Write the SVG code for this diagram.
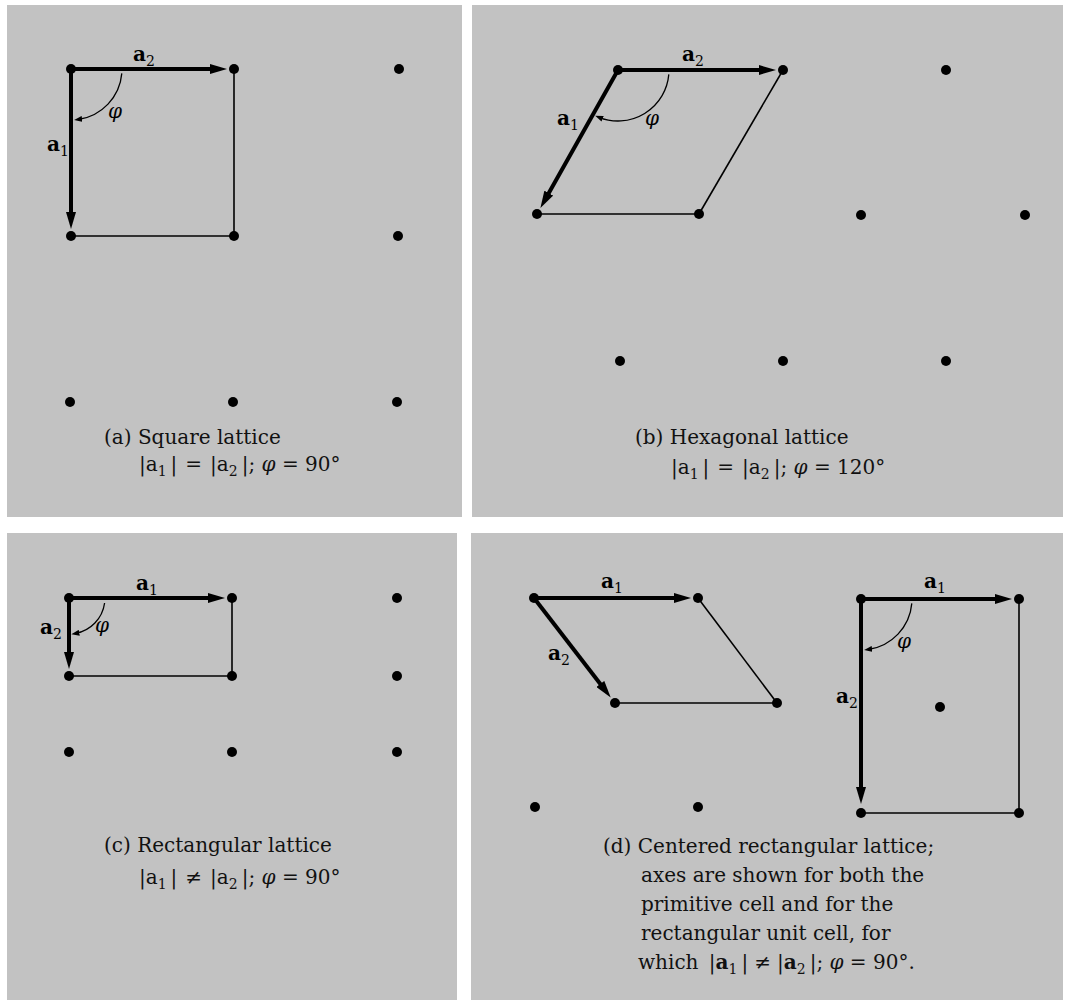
<svg xmlns="http://www.w3.org/2000/svg" width="1067" height="1003" viewBox="0 0 1067 1003">
<style>
.bg{fill:#c2c2c2}
.pt{fill:#000}
.vec{stroke:#000;stroke-width:4;fill:none;marker-end:url(#ah)}
.edge{stroke:#000;stroke-width:1.6;fill:none}
.arc{fill:none;stroke:#000;stroke-width:1.3;marker-end:url(#ahs)}
.lab{font-family:"DejaVu Serif",serif;font-weight:bold;font-size:20px;fill:#000}
.sub{font-size:14px;font-weight:normal}
.phi{font-family:"DejaVu Serif",serif;font-style:italic;font-size:20px;fill:#000}
.cap{font-family:"DejaVu Serif",serif;font-size:20px;fill:#111}
.csub{font-size:14px}
.it{font-style:italic}
.b{font-weight:bold}
</style>
<defs>
<marker id="ah" markerUnits="userSpaceOnUse" markerWidth="17" markerHeight="10" refX="7" refY="5" orient="auto">
<path d="M0,0 L17,5 L0,10 z" fill="#000"/>
</marker>
<marker id="ahs" markerUnits="userSpaceOnUse" markerWidth="8" markerHeight="6" refX="4" refY="3" orient="auto">
<path d="M0,0 L8,3 L0,6 z" fill="#000"/>
</marker>
</defs>
<rect width="1067" height="1003" fill="#fff"/>

<!-- Panel (a) -->
<g id="panel-a">
<rect class="bg" x="7" y="5" width="455" height="512"/>
<g id="a-connectors">
<line class="edge" x1="234" y1="69" x2="234" y2="236"/>
<line class="edge" x1="71" y1="236" x2="234" y2="236"/>
<line class="vec" x1="71" y1="69" x2="217" y2="69"/>
<line class="vec" x1="71" y1="69" x2="71" y2="219"/>
<path class="arc" d="M121.8,73.4 A51,51 0 0 1 78.1,119.5"/>
</g>
<g id="a-points">
<circle class="pt" cx="71" cy="69" r="5"/><circle class="pt" cx="234" cy="69" r="5"/><circle class="pt" cx="399" cy="69" r="5"/>
<circle class="pt" cx="71" cy="236" r="5"/><circle class="pt" cx="234" cy="236" r="5"/><circle class="pt" cx="398" cy="236" r="5"/>
<circle class="pt" cx="70" cy="402" r="5"/><circle class="pt" cx="233" cy="402" r="5"/><circle class="pt" cx="397" cy="402" r="5"/>
</g>
<text class="lab" x="133" y="61">a<tspan class="sub" dy="5">2</tspan></text>
<text class="lab" x="47" y="151">a<tspan class="sub" dy="5">1</tspan></text>
<text class="phi" x="108" y="118">φ</text>
<text class="cap" x="104" y="444">(a) Square lattice</text>
<text class="cap" x="139" y="471">|a<tspan class="csub" dy="5">1</tspan><tspan dy="-5" dx="4">|</tspan><tspan dx="8">=</tspan><tspan dx="8">|a</tspan><tspan class="csub" dy="5">2</tspan><tspan dy="-5" dx="4">|; <tspan class="it">φ</tspan> = 90°</tspan></text>
</g>

<!-- Panel (b) -->
<g id="panel-b">
<rect class="bg" x="472" y="5" width="591" height="512"/>
<g id="b-connectors">
<line class="edge" x1="783" y1="70" x2="699" y2="214"/>
<line class="edge" x1="537" y1="214" x2="699" y2="214"/>
<line class="vec" x1="618" y1="70" x2="766" y2="70"/>
<line class="vec" x1="618" y1="70" x2="545.3" y2="199.2"/>
<path class="arc" d="M668.8,74.4 A51,51 0 0 1 598.9,117.3"/>
</g>
<g id="b-points">
<circle class="pt" cx="618" cy="70" r="5"/><circle class="pt" cx="783" cy="70" r="5"/><circle class="pt" cx="946" cy="70" r="5"/>
<circle class="pt" cx="537" cy="214" r="5"/><circle class="pt" cx="699" cy="214" r="5"/><circle class="pt" cx="861" cy="215" r="5"/><circle class="pt" cx="1025" cy="215" r="5"/>
<circle class="pt" cx="620" cy="361" r="5"/><circle class="pt" cx="783" cy="361" r="5"/><circle class="pt" cx="946" cy="361" r="5"/>
</g>
<text class="lab" x="682" y="61">a<tspan class="sub" dy="5">2</tspan></text>
<text class="lab" x="557" y="125">a<tspan class="sub" dy="5">1</tspan></text>
<text class="phi" x="645" y="125">φ</text>
<text class="cap" x="635" y="444">(b) Hexagonal lattice</text>
<text class="cap" x="671" y="474">|a<tspan class="csub" dy="5">1</tspan><tspan dy="-5" dx="4">|</tspan><tspan dx="8">=</tspan><tspan dx="8">|a</tspan><tspan class="csub" dy="5">2</tspan><tspan dy="-5" dx="4">|; <tspan class="it">φ</tspan> = 120°</tspan></text>
</g>

<!-- Panel (c) -->
<g id="panel-c">
<rect class="bg" x="7" y="533" width="450" height="467"/>
<g id="c-connectors">
<line class="edge" x1="232" y1="598" x2="232" y2="676"/>
<line class="edge" x1="69" y1="676" x2="232" y2="676"/>
<line class="vec" x1="69" y1="598" x2="215" y2="598"/>
<line class="vec" x1="69" y1="598" x2="69" y2="659"/>
<path class="arc" d="M104.6,603 A36,36 0 0 1 75.3,633.5"/>
</g>
<g id="c-points">
<circle class="pt" cx="69" cy="598" r="5"/><circle class="pt" cx="232" cy="598" r="5"/><circle class="pt" cx="397" cy="598" r="5"/>
<circle class="pt" cx="69" cy="676" r="5"/><circle class="pt" cx="232" cy="676" r="5"/><circle class="pt" cx="397" cy="676" r="5"/>
<circle class="pt" cx="69" cy="752" r="5"/><circle class="pt" cx="232" cy="752" r="5"/><circle class="pt" cx="397" cy="752" r="5"/>
</g>
<text class="lab" x="136" y="590">a<tspan class="sub" dy="5">1</tspan></text>
<text class="lab" x="40" y="634">a<tspan class="sub" dy="5">2</tspan></text>
<text class="phi" x="95" y="632">φ</text>
<text class="cap" x="104" y="852">(c) Rectangular lattice</text>
<text class="cap" x="139" y="884">|a<tspan class="csub" dy="5">1</tspan><tspan dy="-5" dx="4">|</tspan><tspan dx="8">≠</tspan><tspan dx="8">|a</tspan><tspan class="csub" dy="5">2</tspan><tspan dy="-5" dx="4">|; <tspan class="it">φ</tspan> = 90°</tspan></text>
</g>

<!-- Panel (d) -->
<g id="panel-d">
<rect class="bg" x="471" y="533" width="592" height="467"/>
<g id="d-connectors">
<line class="edge" x1="698" y1="598" x2="777" y2="703"/>
<line class="edge" x1="615" y1="703" x2="777" y2="703"/>
<line class="vec" x1="534" y1="598" x2="681" y2="598"/>
<line class="vec" x1="534" y1="598" x2="604.6" y2="689.5"/>
<line class="edge" x1="1019" y1="599" x2="1019" y2="813"/>
<line class="edge" x1="861" y1="813" x2="1019" y2="813"/>
<line class="vec" x1="861" y1="599" x2="1002" y2="599"/>
<line class="vec" x1="861" y1="599" x2="861" y2="794"/>
<path class="arc" d="M911.8,603.4 A51,51 0 0 1 868.1,649.5"/>
</g>
<g id="d-points">
<circle class="pt" cx="534" cy="598" r="5"/><circle class="pt" cx="698" cy="598" r="5"/>
<circle class="pt" cx="615" cy="703" r="5"/><circle class="pt" cx="777" cy="703" r="5"/>
<circle class="pt" cx="535" cy="807" r="5"/><circle class="pt" cx="698" cy="807" r="5"/>
<circle class="pt" cx="861" cy="599" r="5"/><circle class="pt" cx="1019" cy="599" r="5"/>
<circle class="pt" cx="940" cy="707" r="5"/>
<circle class="pt" cx="861" cy="813" r="5"/><circle class="pt" cx="1019" cy="813" r="5"/>
</g>
<text class="lab" x="601" y="588">a<tspan class="sub" dy="5">1</tspan></text>
<text class="lab" x="548" y="660">a<tspan class="sub" dy="5">2</tspan></text>
<text class="lab" x="924" y="588">a<tspan class="sub" dy="5">1</tspan></text>
<text class="lab" x="836" y="703">a<tspan class="sub" dy="5">2</tspan></text>
<text class="phi" x="897" y="648">φ</text>
<text class="cap" x="603" y="853">(d) Centered rectangular lattice;</text>
<text class="cap" x="641" y="882">axes are shown for both the</text>
<text class="cap" x="641" y="911">primitive cell and for the</text>
<text class="cap" x="641" y="940">rectangular unit cell, for</text>
<text class="cap" x="638" y="969">which <tspan dx="4">|</tspan><tspan class="b">a</tspan><tspan class="csub" dy="5">1</tspan><tspan dy="-5" dx="4">|</tspan><tspan dx="6">≠</tspan><tspan dx="6">|</tspan><tspan class="b">a</tspan><tspan class="csub" dy="5">2</tspan><tspan dy="-5" dx="4">|; <tspan class="it">φ</tspan> = 90°.</tspan></text>
</g>
</svg>
